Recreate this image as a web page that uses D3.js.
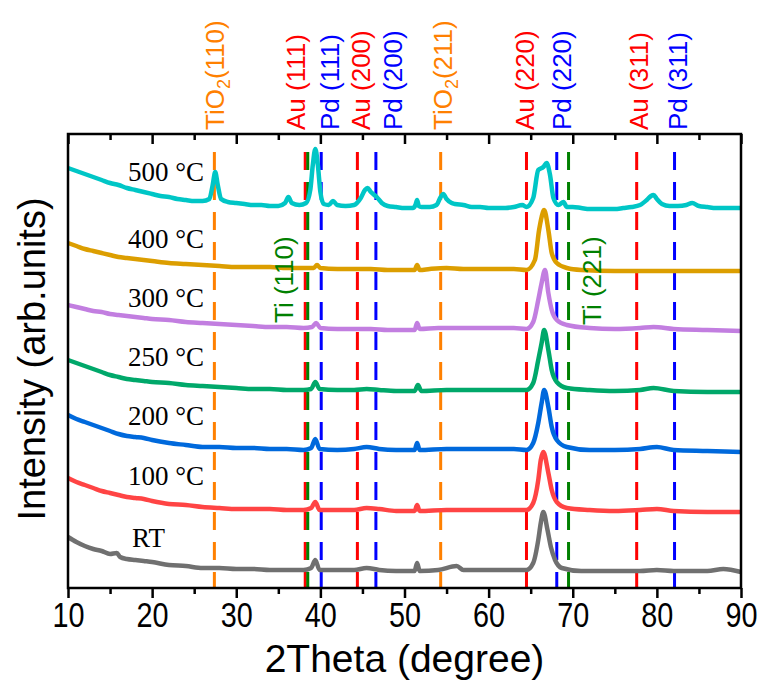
<!DOCTYPE html>
<html><head><meta charset="utf-8">
<script src="https://cdn.jsdelivr.net/npm/d3@7"></script>
<style>body{margin:0;background:#fff}svg{display:block}</style>
</head><body>
<svg id="chart" width="758" height="693"></svg>
<script>
// ---------- data ----------
const xTicks = [10,20,30,40,50,60,70,80,90];
const xMinorTicks = [15,25,35,45,55,65,75,85];

const seriesNames = ["RT","100 °C","200 °C","250 °C","300 °C","400 °C","500 °C"];
const seriesColors = ["#707070","#ff4444","#0069dc","#00a86a","#c27ee0","#dc9e00","#00c6c6"];
const seriesLabelY = [41, 103, 163, 222, 281, 340, 407]; // intensity at which label baseline sits

const dRT = [[10,51],[11,46],[12,42],[13,39],[14,37],[15,34],[15.8,35],[16.2,31],[17,29],[18,28],[19,27],[20,26],[22,23],[24,22],[26,20],[28,20],[30,19],[32,19],[34,18],[36,18],[38,18],[38.9,20],[39.4,28],[39.9,18],[42,18],[44,18],[45.5,20],[47,18],[49,17],[51.2,17],[51.5,25],[51.8,17],[54,18],[56.2,22],[57,18],[59,18],[61,18],[63,18],[64.5,18],[65.3,25],[65.9,48],[66.2,65],[66.5,76],[67.0,58],[67.4,41],[67.9,28],[68.7,20],[71,17],[75,17],[78,17],[80,18],[82,17],[86,17],[87.9,19],[90,16]];
const d100 = [[10,110],[11,106],[12,103],[13,100],[14,97],[15,95],[16,93],[17,91],[18,90],[19,89],[20,87],[22,84],[24,83],[26,81],[28,80],[30,79],[32,79],[34,79],[36,78],[38,78],[38.9,80],[39.4,86],[39.9,78],[42,78],[44,78],[45.5,80],[47,79],[49,77],[51.2,77],[51.5,83],[51.8,77],[55,78],[58,78],[61,78],[63,78],[64.5,78],[65.3,85],[65.9,108],[66.2,128],[66.5,136],[67.1,115],[67.5,98],[68.1,86],[69.3,80],[72,78],[75,77],[78,78],[80,79],[82,77],[86,76],[90,76]];
const d200 = [[10,173],[11,169],[12,166],[13,163],[14,160],[15,157],[16,154],[17,152],[18,151],[19,150],[20,148],[22,145],[24,143],[26,141],[28,141],[30,140],[32,140],[34,139],[36,139],[38,138],[38.9,140],[39.4,149],[39.9,139],[42,138],[44,139],[45.5,141],[47,139],[49,138],[51.2,138],[51.5,145],[51.8,138],[55,139],[58,139],[61,139],[63,139],[64.5,138],[65.3,145],[65.9,165],[66.3,185],[66.6,198],[67.1,181],[67.5,161],[68.1,148],[69.3,141],[72,138],[75,138],[78,139],[80,141],[82,138],[86,137],[90,136]];
const d250 = [[10,228],[11,225],[12,222],[13,219],[14,216],[15,213],[16,211],[17,209],[18,208],[19,207],[20,206],[22,205],[24,203],[26,202],[28,201],[30,200],[32,199],[34,199],[36,198],[38,198],[38.9,199],[39.4,206],[39.9,199],[42,198],[44,198],[45.5,199],[47,198],[49,197],[51.2,197],[51.6,203],[52,197],[55,198],[58,198],[61,198],[63,198],[64.5,198],[65.3,205],[65.9,228],[66.3,245],[66.6,258],[67.1,238],[67.5,218],[68.1,206],[69.3,200],[72,198],[75,197],[78,198],[79.6,200],[82,197],[86,196],[90,196]];
const d300 = [[10,283],[11,281],[12,279],[13,277],[14,276],[15,274],[16,273],[17,272],[18,271],[19,270],[20,269],[22,268],[24,266],[26,265],[28,264],[30,263],[32,262],[34,261],[36,261],[38,260],[39,261],[39.5,265],[40,260],[42,259],[44,259],[46,259],[48,258],[50,258],[51.2,258],[51.5,265],[51.8,259],[54,260],[57,260],[60,260],[63,260],[64.5,259],[65.3,266],[65.9,288],[66.3,305],[66.7,318],[67.1,295],[67.5,278],[68.1,268],[69.3,263],[72,260],[75,259],[78,260],[79.6,261],[82,259],[86,258],[90,257]];
const d400 = [[10,345],[11,342],[12,339],[13,337],[14,335],[15,333],[16,331],[17,330],[18,329],[19,328],[20,327],[22,325],[24,324],[26,323],[28,322],[30,321],[32,321],[34,321],[36,320],[38,320],[39.2,320],[39.6,323],[40,320],[42,319],[44,319],[46,319],[48,318],[50,318],[51.2,318],[51.5,323],[51.8,318],[53,319],[55,320],[57,319],[59,319],[61,319],[63,319],[64.5,318],[65.5,328],[66.0,358],[66.3,371],[66.6,378],[67.1,358],[67.5,335],[68.1,325],[69.3,320],[71,318],[75,317],[80,317],[85,317],[90,317]];
const d500 = [[10,420],[11,417],[12,414],[13,411],[14,408],[15,405],[16,403],[17,400],[18,398],[19,396],[20,394],[21,392],[22,391],[23,389],[24,388],[25,387],[26,387],[26.8,389],[27.2,403],[27.5,416],[27.8,403],[28.2,389],[29,386],[30,385],[31,384],[32,383],[33,383],[34,382],[35,382],[35.8,385],[36.2,391],[36.6,385],[37.5,383],[38.3,385],[38.8,398],[39.1,423],[39.4,439],[39.7,423],[40,396],[40.4,384],[41,383],[41.5,387],[42,383],[43,382],[44,383],[44.8,390],[45.3,398],[45.6,400],[46,396],[46.7,391],[47.3,385],[48,382],[49,381],[50,380],[51,380],[51.3,383],[51.5,388],[51.7,382],[52,381],[53,381],[53.8,383],[54.3,391],[54.6,394],[55,389],[55.6,385],[56,384],[57,383],[58,381],[59,381],[60,380],[61,380],[62,380],[63,381],[64,383],[64.5,381],[65.3,390],[65.9,418],[66.5,421],[66.9,425],[67.3,413],[67.7,390],[68.3,383],[68.9,386],[69.3,381],[70,381],[71,380],[72,379],[73,379],[74,379],[75,379],[76,380],[77,381],[78,383],[78.8,388],[79.3,392],[79.6,393],[80,389],[80.6,384],[81.5,382],[82.5,382],[83.5,383],[84.2,385],[85,382],[86,381],[87,380],[88,380],[89,380],[90,380]];
const seriesData = [dRT, d100, d200, d250, d300, d400, d500];

// reference peak positions (2theta)
const peakNames     = ["TiO2(110)","Au (111)","Ti (110)","Pd (111)","Au (200)","Pd (200)","TiO2(211)","Au (220)","Pd (220)","Ti (221)","Au (311)","Pd (311)"];
const peakPositions = [27.4, 38.2, 38.5, 40.1, 44.4, 46.6, 54.3, 64.5, 68.1, 69.5, 77.6, 82.1];
const peakPhases    = ["TiO2","Au","Ti","Pd","Au","Pd","TiO2","Au","Pd","Ti","Au","Pd"];
const labelPositions= [28.5, 38.2, 36.8, 42.2, 45.9, 49.7, 55.6, 65.4, 69.8, 73.4, 78.9, 83.6];
const phaseColors = {TiO2:"#ff8000", Au:"#ff0000", Pd:"#0000ff", Ti:"#008000"};

// ---------- layout ----------
const svg = d3.select("#chart");
const L = 68, R = 741, T = 134, B = 588;
const x = d3.scaleLinear().domain([10,90]).range([L,R]);
const y = d3.scaleLinear().domain([0,454]).range([B,T]);
const sans = "'Liberation Sans', Arial, sans-serif";
const serif = "'Liberation Serif', 'Times New Roman', serif";

// dashed reference lines
svg.append("g").selectAll("line").data(peakPositions).join("line")
  .attr("x1", d=>x(d)).attr("x2", d=>x(d))
  .attr("y1", T+18).attr("y2", B)
  .attr("stroke", (d,i)=>phaseColors[peakPhases[i]])
  .attr("stroke-width", 3)
  .attr("stroke-dasharray", "18,12");

// curves
const line = d3.line().x(d=>x(d[0])).y(d=>y(d[1])).curve(d3.curveMonotoneX);
svg.append("g").selectAll("path").data(seriesData).join("path")
  .attr("d", line)
  .attr("fill","none")
  .attr("stroke",(d,i)=>seriesColors[i])
  .attr("stroke-width",4.5)
  .attr("stroke-linejoin","round");

// series labels
const labelsG = svg.append("g");
seriesNames.forEach((n,i)=>{
  const t = labelsG.append("text")
    .attr("y", y(seriesLabelY[i]))
    .attr("font-family", serif).attr("font-size", 27).attr("fill","#000")
    .text(n);
  if (n === "RT") t.attr("x", 132).attr("text-anchor","start");
  else t.attr("x", 204).attr("text-anchor","end");
});

// peak labels
peakNames.forEach((n,i)=>{
  const ph = peakPhases[i];
  const inside = ph === "Ti";
  const bx = x(labelPositions[i]);
  const by = inside ? (i===2 ? 323 : 325) : 130;
  const t = svg.append("text")
    .attr("transform", `translate(${bx},${by}) rotate(-90)`)
    .attr("font-family", sans).attr("font-size", 26)
    .attr("fill", phaseColors[ph]);
  if (n.startsWith("TiO2")) {
    t.append("tspan").text("TiO");
    t.append("tspan").attr("dy", 6).attr("font-size", 18).text("2");
    t.append("tspan").attr("dy", -6).text(n.slice(4));
  } else {
    t.text(n);
  }
});

// axes
const gb = svg.append("g").attr("transform",`translate(0,${B})`);
gb.call(d3.axisBottom(x).tickValues(xTicks).tickSize(10).tickPadding(3).tickFormat(d3.format("d")));
gb.append("g").call(d3.axisBottom(x).tickValues(xMinorTicks).tickSize(6).tickFormat(""));
gb.selectAll("path.domain").remove();
gb.selectAll("line").attr("stroke","#000").attr("stroke-width",2.5);
gb.selectAll("text").attr("font-family",sans)
  .attr("font-size",36).attr("fill","#000").attr("transform","scale(0.8,1)");

const gt = svg.append("g").attr("transform",`translate(0,${T})`);
gt.call(d3.axisTop(x).tickValues(xTicks).tickSize(-10).tickFormat(""));
gt.append("g").call(d3.axisTop(x).tickValues(xMinorTicks).tickSize(-6).tickFormat(""));
gt.selectAll("path.domain").remove();
gt.selectAll("line").attr("stroke","#000").attr("stroke-width",2.5);

// frame
svg.append("rect").attr("x",L).attr("y",T).attr("width",R-L).attr("height",B-T)
  .attr("fill","none").attr("stroke","#000").attr("stroke-width",2.5);

// axis titles
svg.append("text").attr("x",(L+R)/2).attr("y",672).attr("text-anchor","middle")
  .attr("font-family",sans).attr("font-size",39).attr("fill","#000").text("2Theta (degree)");
svg.append("text").attr("transform","translate(45,359) rotate(-90)").attr("text-anchor","middle")
  .attr("font-family",sans).attr("font-size",38).attr("fill","#000").text("Intensity (arb.units)");
</script>
</body></html>
